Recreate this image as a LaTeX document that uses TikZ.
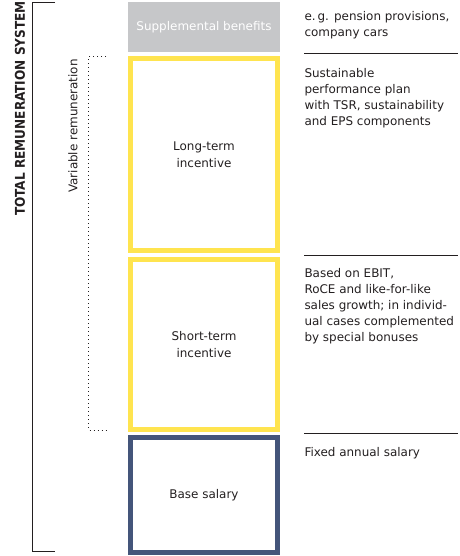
\documentclass[tikz,border=0pt]{standalone}
\usepackage{fontspec}
\setmainfont{DejaVu Sans}
\newfontfamily\condfont{DejaVu Sans Condensed}
\definecolor{txt}{HTML}{231F20}
\definecolor{suppgray}{HTML}{C6C7C9}
\definecolor{ltyellow}{HTML}{FFE44F}
\definecolor{navy}{HTML}{44557A}
\begin{document}
\begin{tikzpicture}[x=1bp,y=-1bp,
  every node/.style={inner sep=0pt, outer sep=0pt, text=txt},
  bodytext/.style={font=\fontsize{12}{16}\selectfont, align=left, anchor=base west},
  boxtext/.style={font=\fontsize{12}{17}\selectfont, align=center},
  framebox/.style={draw, line width=5bp, minimum width=147bp},
  rule/.style={draw=txt, line width=1bp},
  dotline/.style={draw=txt, line width=1bp, dash pattern=on 1bp off 3bp}
]
\useasboundingbox (0,0) rectangle (460,556);
% boxes
\node[fill=suppgray, minimum width=152bp, minimum height=50bp, text=white,
  font=\fontsize{12}{16}\selectfont] (supp) at (204,27) {Supplemental benefits};
\node[framebox, draw=ltyellow, minimum height=192.3bp, boxtext] (lti) at (204,154.65) {Long-term\\incentive};
\node[framebox, draw=ltyellow, minimum height=170.3bp, boxtext] (sti) at (204,344.35) {Short-term\\incentive};
\node[framebox, draw=navy, minimum height=115bp, boxtext] (base) at (204,495) {Base salary};
% descriptions (anchor = baseline of the last line)
\node[bodytext] (dsupp) at (304.5,36.5) {e.\,g. pension provisions,\\company cars};
\node[bodytext] (dlti) at (304.5,125.5) {Sustainable\\performance plan\\with TSR, sustainability\\and EPS components};
\node[bodytext] (dsti) at (304.5,341.5) {Based on EBIT,\\RoCE and like-for-like\\sales growth; in individ-\\ual cases complemented\\by special bonuses};
\node[bodytext] (dbase) at (304.5,456) {Fixed annual salary};
% separator rules
\coordinate (r1a) at (304,54); \coordinate (r1b) at (458,54);
\coordinate (r2a) at (304,255); \coordinate (r2b) at (458,255);
\coordinate (r3a) at (304,433); \coordinate (r3b) at (458,433);
\draw[rule] (r1a) -- (r1b);
\draw[rule] (r2a) -- (r2b);
\draw[rule] (r3a) -- (r3b);
% total bracket
\coordinate (tt) at (55,2.5); \coordinate (tb) at (55,551.5);
\draw[rule] (tt) -- (32.5,2.5) -- (32.5,551.5) -- (tb);
\node[rotate=90, font=\condfont\fontsize{13.5}{15}\selectfont\bfseries] (total) at (20,108.5) {TOTAL REMUNERATION SYSTEM};
% variable bracket
\coordinate (vt) at (106,57); \coordinate (vb) at (107,430);
\draw[dotline] (vt) -- (88.3,57) -- (88.3,430) -- (vb);
\node[rotate=90, font=\fontsize{12}{14}\selectfont] (var) at (73,126) {Variable remuneration};
\end{tikzpicture}
\end{document}
